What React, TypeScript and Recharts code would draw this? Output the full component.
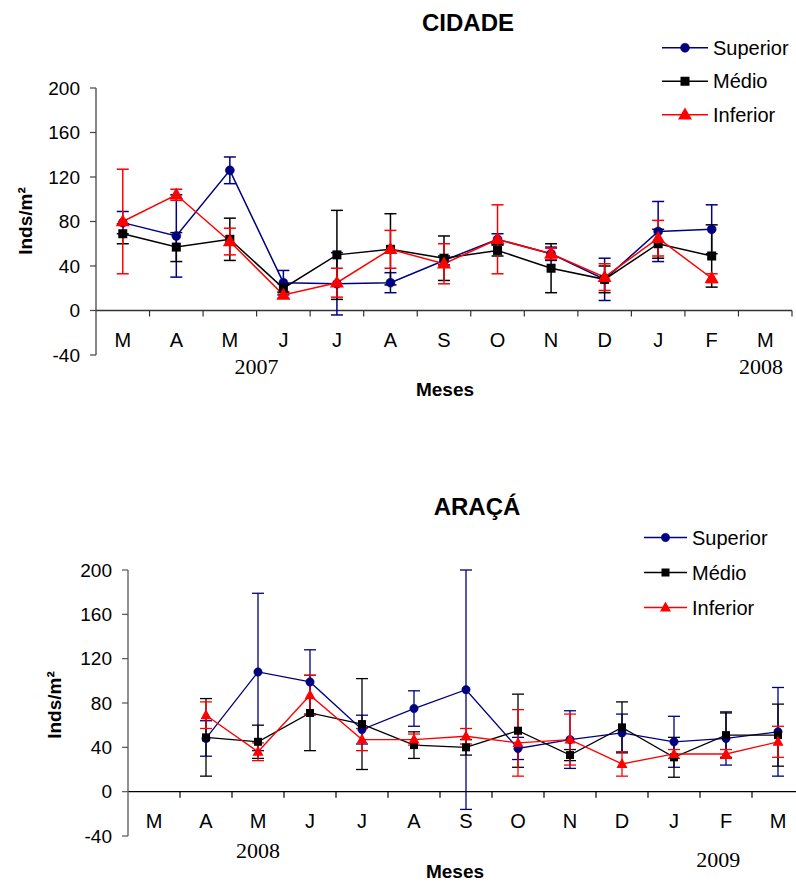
import React from 'react';
import { LineChart, Line, XAxis, YAxis, ErrorBar, ReferenceLine } from 'recharts';

const SANS = "'Liberation Sans', Arial, sans-serif";
const SERIF = "'Liberation Serif', 'Times New Roman', serif";

const MONTHS = ['M', 'A', 'M', 'J', 'J', 'A', 'S', 'O', 'N', 'D', 'J', 'F', 'M'];
const Y_TICKS = [-40, 0, 40, 80, 120, 160, 200];
const SERIES_NAMES = ['Superior', 'Médio', 'Inferior'];
const SERIES_COLORS = ['#000080', '#000000', '#FF0000'];

// CIDADE
const CIDADE_SUPERIOR = [79, 67, 126, 25, 24, 25, 45, 64, 51, 28, 71, 73, null];
const CIDADE_SUPERIOR_ERR = [10, 37, 12, 11, 28, 9, 4, 5, 6, 19, 27, 22, null];
const CIDADE_MEDIO = [69, 57, 64, 20, 50, 55, 47, 54, 38, 28, 60, 49, null];
const CIDADE_MEDIO_ERR = [9, 13, 19, 4, 40, 32, 20, 5, 22, 12, 13, 28, null];
const CIDADE_INFERIOR = [80, 104, 62, 14, 25, 55, 42, 64, 51, 30, 65, 29, null];
const CIDADE_INFERIOR_ERR = [47, 5, 12, 3, 13, 17, 18, 31, 5, 12, 16, 4, null];
const CIDADE_YEARS = [
  { text: '2007', at: 3 },
  { text: '2008', at: 12.42 },
];

// ARAÇÁ
const ARACA_SUPERIOR = [null, 48, 108, 99, 56, 75, 92, 39, 47, 53, 45, 48, 54];
const ARACA_SUPERIOR_ERR = [null, 16, 71, 29, 13, 16, 108, 10, 26, 17, 23, 24, 40];
const ARACA_MEDIO = [null, 49, 45, 71, 61, 42, 40, 55, 33, 58, 31, 51, 51];
const ARACA_MEDIO_ERR = [null, 35, 15, 34, 41, 12, 7, 33, 5, 23, 18, 20, 28];
const ARACA_INFERIOR = [null, 69, 36, 87, 47, 47, 50, 44, 47, 25, 34, 34, 45];
const ARACA_INFERIOR_ERR = [null, 12, 8, 18, 10, 5, 7, 30, 23, 11, 4, 4, 14];
const ARACA_YEARS = [
  { text: '2008', at: 2.5, dy: 22 },
  { text: '2009', at: 11.35, dy: 31 },
];

type Row = {
  pos: number;
  sup: number | null;
  supErr: number | null;
  med: number | null;
  medErr: number | null;
  inf: number | null;
  infErr: number | null;
};

function buildRows(
  sup: (number | null)[],
  supErr: (number | null)[],
  med: (number | null)[],
  medErr: (number | null)[],
  inf: (number | null)[],
  infErr: (number | null)[]
): Row[] {
  return MONTHS.map((_, i) => ({
    pos: i + 0.5,
    sup: sup[i],
    supErr: supErr[i],
    med: med[i],
    medErr: medErr[i],
    inf: inf[i],
    infErr: infErr[i],
  })).filter((r) => r.sup != null);
}

const cidadeRows = buildRows(
  CIDADE_SUPERIOR, CIDADE_SUPERIOR_ERR, CIDADE_MEDIO, CIDADE_MEDIO_ERR, CIDADE_INFERIOR, CIDADE_INFERIOR_ERR
);
const aracaRows = buildRows(
  ARACA_SUPERIOR, ARACA_SUPERIOR_ERR, ARACA_MEDIO, ARACA_MEDIO_ERR, ARACA_INFERIOR, ARACA_INFERIOR_ERR
);

type MarkerSizes = { circleR: number; square: number; triW: number; triH: number };

function Marker({ kind, cx, cy, color, sizes }: { kind: number; cx: number; cy: number; color: string; sizes: MarkerSizes }) {
  if (cx == null || cy == null || isNaN(cx) || isNaN(cy)) return null;
  if (kind === 0) return <circle cx={cx} cy={cy} r={sizes.circleR} fill={color} stroke={color} strokeWidth={0.5} />;
  if (kind === 1) {
    const s = sizes.square;
    return <rect x={cx - s / 2} y={cy - s / 2} width={s} height={s} fill={color} />;
  }
  const w = sizes.triW;
  const h = sizes.triH;
  return (
    <polygon
      points={`${cx},${cy - h * 0.6} ${cx - w / 2},${cy + h * 0.4} ${cx + w / 2},${cy + h * 0.4}`}
      fill={color}
    />
  );
}

const X_TICKS = MONTHS.map((_, i) => i + 0.5);

function MonthTick(props: any) {
  const { x, y, payload } = props;
  const idx = Math.floor(payload.value);
  return (
    <text x={x} y={y - 8} textAnchor="middle" fontFamily={SANS} fontSize={20} fill="#000">
      {MONTHS[idx]}
    </text>
  );
}

function makeZeroAxis(color: string, n: number) {
  return (props: any) => {
    const { x1, y1, x2, y2 } = props;
    const step = (x2 - x1) / n;
    const marks = [];
    for (let k = 1; k <= n; k++) {
      const x = x1 + step * k;
      marks.push(<line key={k} x1={x} y1={y1} x2={x} y2={y1 + 6} stroke={color} strokeWidth={1.2} />);
    }
    return (
      <g>
        <line x1={x1} y1={y1} x2={x2} y2={y2} stroke={color} strokeWidth={1.3} />
        {marks}
      </g>
    );
  };
}

type PanelProps = {
  rows: Row[];
  years: { text: string; at: number; dy?: number }[];
  width: number;
  height: number;
  margin: { top: number; right: number; left: number; bottom: number };
  yAxisWidth: number;
  sizes: MarkerSizes;
  lineWidth: number;
  zeroColor: string;
  axisColor: string;
};

function Panel(p: PanelProps) {
  const keys: [keyof Row, keyof Row][] = [
    ['sup', 'supErr'],
    ['med', 'medErr'],
    ['inf', 'infErr'],
  ];
  return (
    <LineChart width={p.width} height={p.height} data={p.rows} margin={p.margin}>
      <XAxis
        dataKey="pos"
        type="number"
        domain={[0, MONTHS.length]}
        ticks={X_TICKS}
        interval={0}
        axisLine={false}
        tickLine={false}
        tickSize={0}
        tickMargin={0}
        height={30}
        tick={<MonthTick />}
        allowDecimals
      />
      <YAxis
        type="number"
        domain={[-40, 200]}
        ticks={Y_TICKS}
        allowDataOverflow
        interval={0}
        width={p.yAxisWidth}
        axisLine={{ stroke: p.axisColor, strokeWidth: 1.3 }}
        tickLine={{ stroke: p.axisColor, strokeWidth: 1.2 }}
        tickSize={6}
        tickMargin={10}
        tick={{ fontFamily: SANS, fontSize: 19, fill: '#000' }}
      />
      <ReferenceLine y={0} ifOverflow="visible" shape={makeZeroAxis(p.zeroColor, MONTHS.length)} />
      {p.years.map((yr) => (
        <ReferenceLine
          key={yr.text}
          x={yr.at}
          stroke="none"
          ifOverflow="visible"
          label={(lp: any) => {
            const vb = lp.viewBox || {};
            return (
              <text
                x={vb.x}
                y={(vb.y || 0) + (vb.height || 0) + (yr.dy ?? 19)}
                textAnchor="middle"
                fontFamily={SERIF}
                fontSize={22}
                fill="#000"
              >
                {yr.text}
              </text>
            );
          }}
        />
      ))}
      {keys.map(([vk, ek], si) => (
        <Line
          key={String(vk)}
          type="linear"
          dataKey={vk as string}
          name={SERIES_NAMES[si]}
          stroke={SERIES_COLORS[si]}
          strokeWidth={p.lineWidth}
          isAnimationActive={false}
          activeDot={false}
          dot={(dp: any) => (
            <g key={`${String(vk)}-${dp.index}`}>
              <Marker kind={si} cx={dp.cx} cy={dp.cy} color={SERIES_COLORS[si]} sizes={p.sizes} />
            </g>
          )}
        >
          <ErrorBar
            dataKey={ek as string}
            direction="y"
            width={6}
            stroke={SERIES_COLORS[si]}
            strokeWidth={p.lineWidth}
            isAnimationActive={false}
          />
        </Line>
      ))}
    </LineChart>
  );
}

function LegendBox({ left, top, rowGap, lineLen, sizes }: { left: number; top: number; rowGap: number; lineLen: number; sizes: MarkerSizes }) {
  const h = rowGap * 3;
  return (
    <svg width={180} height={h} style={{ position: 'absolute', left, top, overflow: 'visible' }}>
      {SERIES_NAMES.map((name, i) => {
        const cy = rowGap / 2 + i * rowGap;
        return (
          <g key={name}>
            <line x1={0} y1={cy} x2={lineLen} y2={cy} stroke={SERIES_COLORS[i]} strokeWidth={1.5} />
            <Marker kind={i} cx={lineLen / 2} cy={cy} color={SERIES_COLORS[i]} sizes={sizes} />
            <text x={lineLen + 5} y={cy + 7} fontFamily={SANS} fontSize={20} fill="#000">
              {name}
            </text>
          </g>
        );
      })}
    </svg>
  );
}

const TOP_SIZES = { circleR: 4.5, square: 9, triW: 14, triH: 12 };
const BOT_SIZES = { circleR: 4.2, square: 8, triW: 11, triH: 10 };

export default function App() {
  return (
    <div
      style={{
        position: 'absolute',
        left: 0,
        top: 0,
        width: 796,
        height: 882,
        overflow: 'hidden',
        background: '#fff',
      }}
    >
      <div style={{ position: 'absolute', left: 0, top: 0 }}>
        <Panel
          rows={cidadeRows}
          years={CIDADE_YEARS}
          width={796}
          height={400}
          margin={{ top: 88, right: 4, left: 0, bottom: 15 }}
          yAxisWidth={96}
          sizes={TOP_SIZES}
          lineWidth={1.5}
          zeroColor="#333"
          axisColor="#444"
        />
      </div>
      <div style={{ position: 'absolute', left: 0, top: 470 }}>
        <Panel
          rows={aracaRows}
          years={ARACA_YEARS}
          width={808}
          height={412}
          margin={{ top: 100, right: 4, left: 0, bottom: 16 }}
          yAxisWidth={128}
          sizes={BOT_SIZES}
          lineWidth={1.3}
          zeroColor="#000"
          axisColor="#555"
        />
      </div>
      <LegendBox left={662} top={31} rowGap={33.5} lineLen={46} sizes={TOP_SIZES} />
      <LegendBox left={644} top={520} rowGap={35} lineLen={43} sizes={BOT_SIZES} />
      <svg
        width={796}
        height={882}
        style={{ position: 'absolute', left: 0, top: 0, pointerEvents: 'none' }}
      >
        <text x={468} y={31} textAnchor="middle" fontFamily={SANS} fontWeight="bold" fontSize={24} fill="#000">
          CIDADE
        </text>
        <text x={477} y={515} textAnchor="middle" fontFamily={SANS} fontWeight="bold" fontSize={24} fill="#000">
          ARAÇÁ
        </text>
        <text x={445} y={396} textAnchor="middle" fontFamily={SANS} fontWeight="bold" fontSize={19} fill="#000">
          Meses
        </text>
        <text x={455} y={878} textAnchor="middle" fontFamily={SANS} fontWeight="bold" fontSize={19} fill="#000">
          Meses
        </text>
        <text
          x={0}
          y={0}
          transform="translate(32,221) rotate(-90)"
          textAnchor="middle"
          fontFamily={SANS}
          fontWeight="bold"
          fontSize={19}
          fill="#000"
        >
          Inds/m²
        </text>
        <text
          x={0}
          y={0}
          transform="translate(61,705) rotate(-90)"
          textAnchor="middle"
          fontFamily={SANS}
          fontWeight="bold"
          fontSize={19}
          fill="#000"
        >
          Inds/m²
        </text>
      </svg>
    </div>
  );
}
